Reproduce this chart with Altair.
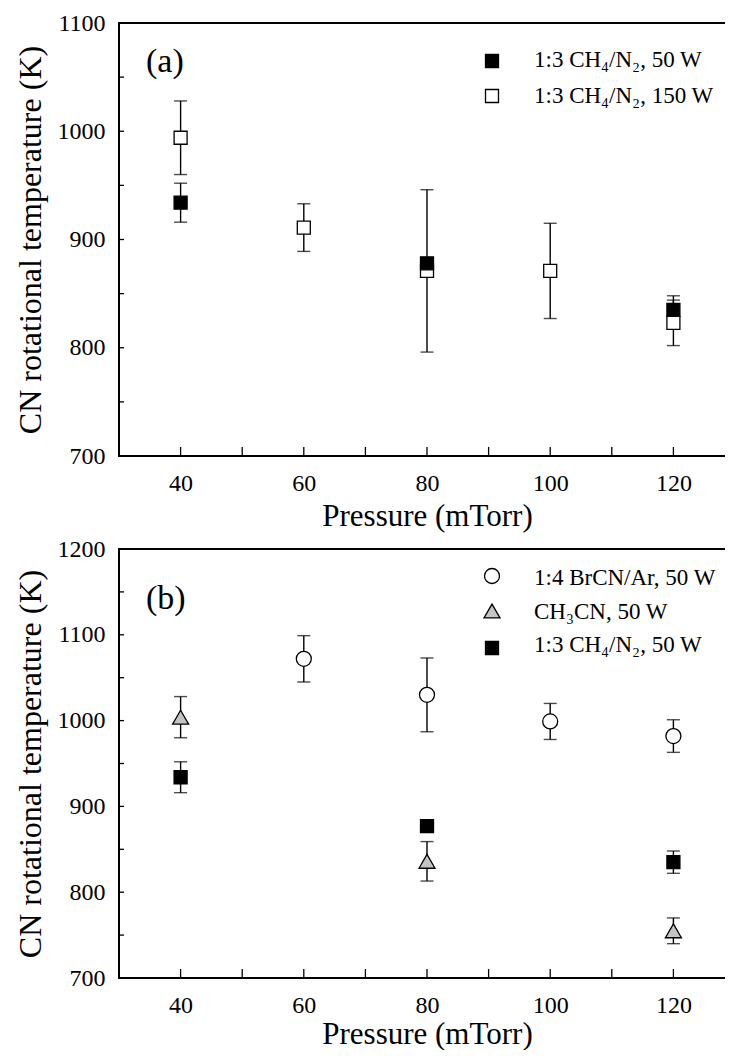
import altair as alt
import pandas as pd

# ---------------- data ----------------
# Panel (a)
a_p_50 = [40, 80, 120]
a_T_50 = [934, 878, 835]
a_e_50 = [18, 5, 13]

a_p_150 = [40, 60, 80, 100, 120]
a_T_150 = [994, 911, 871, 871, 823]
a_e_150 = [34, 22, 75, 44, 21]

# Panel (b)
b_p_br = [60, 80, 100, 120]
b_T_br = [1072, 1030, 999, 982]
b_e_br = [27, 43, 21, 19]

b_p_ch3cn = [40, 80, 120]
b_T_ch3cn = [1004, 836, 755]
b_e_ch3cn = [24, 23, 15]

b_p_ch4 = [40, 80, 120]
b_T_ch4 = [934, 877, 835]
b_e_ch4 = [18, 5, 13]

# axis ticks
x_labels = [40, 60, 80, 100, 120]
x_minor = [40, 50, 60, 70, 80, 90, 100, 110, 120]
ya_labels = [700, 800, 900, 1000, 1100]
ya_minor = [750, 800, 850, 900, 950, 1000, 1050]
yb_labels = [700, 800, 900, 1000, 1100, 1200]
yb_minor = [750, 800, 850, 900, 950, 1000, 1050, 1100, 1150]

legend_a = ["1:3 CH₄/N₂, 50 W", "1:3 CH₄/N₂, 150 W"]
legend_b = ["1:4 BrCN/Ar, 50 W", "CH₃CN, 50 W", "1:3 CH₄/N₂, 50 W"]

# ---------------- styling ----------------
W = 616
FONT = "Liberation Serif"
X_TITLE = "Pressure (mTorr)"
Y_TITLE = "CN rotational temperature (K)"


def make_panel(H, ydomain, ylabels, yminor, series, legend_items, panel_label, label_y,
               xtitle_pad):
    xs = alt.Scale(domain=[30, 130], nice=False, zero=False)
    ys = alt.Scale(domain=ydomain, nice=False, zero=False)
    xaxis = alt.Axis(values=x_labels, format="d", ticks=False, tickSize=0, domain=False, grid=False,
                     labelFontSize=24, labelFont=FONT, labelColor="black", labelPadding=15,
                     labelFlush=False, titleFontSize=31, titleFont=FONT,
                     titleFontWeight="normal", titleColor="black", titlePadding=xtitle_pad)
    yaxis = alt.Axis(values=ylabels, format="d", ticks=False, tickSize=0, domain=False, grid=False,
                     labelFontSize=24, labelFont=FONT, labelColor="black", labelPadding=14,
                     labelFlush=False, titleFontSize=32, titleFont=FONT,
                     titleFontWeight="normal", titleColor="black", titlePadding=10)

    def X(f):
        return alt.X(f, type="quantitative", scale=xs, axis=xaxis, title=X_TITLE)

    def Y(f):
        return alt.Y(f, type="quantitative", scale=ys, axis=yaxis, title=Y_TITLE)

    layers = []
    # inward axis ticks
    tx = alt.Chart(pd.DataFrame({"t": x_minor})).mark_rule(color="black", strokeWidth=1.3).encode(
        x=X("t"), y=alt.value(H), y2=alt.value(H - 9))
    tyl = alt.Chart(pd.DataFrame({"t": yminor})).mark_rule(color="black", strokeWidth=1.3).encode(
        y=Y("t"), x=alt.value(0), x2=alt.value(5))
    tyr = alt.Chart(pd.DataFrame({"t": yminor})).mark_rule(color="black", strokeWidth=1.3).encode(
        y=Y("t"), x=alt.value(W), x2=alt.value(W - 5))
    layers += [tx, tyl, tyr]

    point_layers = []
    for (p, T, e, shape, fill, size) in series:
        df = pd.DataFrame({"p": p, "T": T,
                           "lo": [t - d for t, d in zip(T, e)],
                           "hi": [t + d for t, d in zip(T, e)]})
        base = alt.Chart(df)
        bar = base.mark_rule(color="black", strokeWidth=1.4).encode(x=X("p"), y=Y("lo"), y2="hi:Q")
        clo = base.mark_tick(orient="horizontal", size=13, thickness=1.4, color="black").encode(
            x=X("p"), y=Y("lo"))
        chi = base.mark_tick(orient="horizontal", size=13, thickness=1.4, color="black").encode(
            x=X("p"), y=Y("hi"))
        pts = base.mark_point(shape=shape, filled=True, fill=fill, stroke="black",
                              strokeWidth=1.3, size=size, opacity=1).encode(x=X("p"), y=Y("T"))
        layers += [bar, clo, chi]
        point_layers.append(pts)
    layers += point_layers

    # manual legend
    for (text, shape, fill, size, my, ty) in legend_items:
        d = pd.DataFrame({"t": [text]})
        layers.append(alt.Chart(d).mark_point(shape=shape, filled=True, fill=fill, stroke="black",
                                              strokeWidth=1.3, size=size, opacity=1).encode(
            x=alt.value(373), y=alt.value(my)))
        layers.append(alt.Chart(d).mark_text(align="left", baseline="alphabetic", fontSize=23,
                                             font=FONT, color="black").encode(
            x=alt.value(415), y=alt.value(ty), text="t:N"))

    layers.append(alt.Chart(pd.DataFrame({"t": [panel_label]})).mark_text(
        align="left", baseline="alphabetic", fontSize=34, font=FONT, color="black").encode(
        x=alt.value(27), y=alt.value(label_y), text="t:N"))

    return alt.layer(*layers).properties(width=W, height=H)


SQ = 169
CI = 225
TR = 256

panel_a = make_panel(
    433, [700, 1100], ya_labels, ya_minor,
    [(a_p_150, a_T_150, a_e_150, "square", "white", SQ),
     (a_p_50, a_T_50, a_e_50, "square", "black", SQ)],
    [(legend_a[0], "square", "black", SQ, 38, 44),
     (legend_a[1], "square", "white", SQ, 73, 80)],
    "(a)", 49, 6)

panel_b = make_panel(
    429, [700, 1200], yb_labels, yb_minor,
    [(b_p_br, b_T_br, b_e_br, "circle", "white", CI),
     (b_p_ch3cn, b_T_ch3cn, b_e_ch3cn, "triangle-up", "#c4c4c4", TR),
     (b_p_ch4, b_T_ch4, b_e_ch4, "square", "black", SQ)],
    [(legend_b[0], "circle", "white", CI, 27, 36),
     (legend_b[1], "triangle-up", "#c4c4c4", TR, 62, 70),
     (legend_b[2], "square", "black", SQ, 99, 103)],
    "(b)", 60, 2)

chart = alt.vconcat(panel_a, panel_b, spacing=4).properties(
    padding={"left": 5, "top": 2, "right": -12, "bottom": 0},
    background="white",
).configure_view(stroke="black", strokeWidth=2)

chart.save("out.html", embed_options={"renderer": "svg", "actions": False})
